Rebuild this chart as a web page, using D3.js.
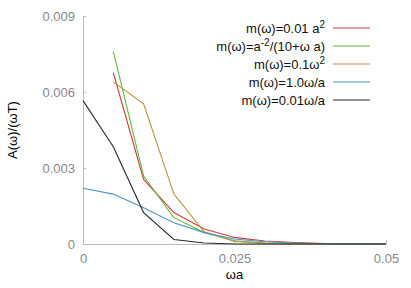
<!DOCTYPE html>
<html>
<head>
<meta charset="utf-8">
<script src="https://cdn.jsdelivr.net/npm/d3@7"></script>
<style>
  body { margin: 0; background: #fff; }
  text { font-family: "Liberation Sans", Arial, sans-serif; }
</style>
</head>
<body>
<div id="chart"></div>
<script>
// omega*a sample points
var xs = [0, 0.005, 0.01, 0.015, 0.02, 0.025, 0.03, 0.035, 0.04, 0.045, 0.05];
var names = ['m(ω)=0.01 a^2', 'm(ω)=a^-2/(10+ω a)', 'm(ω)=0.1ω^2', 'm(ω)=1.0ω/a', 'm(ω)=0.01ω/a'];
// null = no value at that point
var redVals = [null, 0.00676, 0.00255, 0.00124, 0.00059, 0.00026, 0.00012, 0.00006, 0.00002, 0.00001, 0];
var greenVals = [null, 0.0076, 0.00268, 0.00104, 0.00045, 0.00013, 0.00004, 0.00001, 0, 0, 0];
var orangeVals = [null, 0.0064, 0.00553, 0.00197, 0.00048, 0.0001, 0.00002, 0, 0, 0, 0];
var blueVals = [0.0022, 0.00197, 0.00143, 0.00084, 0.00045, 0.0002, 0.00009, 0.00004, 0.00001, 0, 0];
var blackVals = [0.00566, 0.00384, 0.00124, 0.00018, 0.00004, 0, 0, 0, 0, 0, 0];
var xTicks = [0, 0.025, 0.05];
var yTicks = [0, 0.003, 0.006, 0.009];

var width = 411, height = 288;
var margin = {left: 83, right: 25, top: 16, bottom: 44};

var series = [
    {name: names[0], vals: redVals, color: '#c8403a'},
    {name: names[1], vals: greenVals, color: '#64b43c'},
    {name: names[2], vals: orangeVals, color: '#b8903a'},
    {name: names[3], vals: blueVals, color: '#4a94c4'},
    {name: names[4], vals: blackVals, color: '#2a2a2a'}
];

var svg = d3.select('#chart').append('svg')
    .attr('width', width)
    .attr('height', height);

var x = d3.scaleLinear().domain([0, 0.05]).range([margin.left, width - margin.right]);
var y = d3.scaleLinear().domain([0, 0.009]).range([height - margin.bottom, margin.top]);

//axes
var xAxis = svg.append('g')
    .attr('transform', 'translate(0,' + (height - margin.bottom) + ')')
    .call(d3.axisBottom(x).tickValues(xTicks).tickSizeInner(-4).tickSizeOuter(0).tickPadding(10)
        .tickFormat(function (d) { return d === 0 ? '0' : String(d); }));
var yAxis = svg.append('g')
    .attr('transform', 'translate(' + margin.left + ',0)')
    .call(d3.axisLeft(y).tickValues(yTicks).tickSizeInner(-3).tickSizeOuter(0).tickPadding(8)
        .tickFormat(function (d) { return d === 0 ? '0' : d3.format('.3f')(d); }));
svg.selectAll('.domain').attr('stroke', '#bbb');
svg.selectAll('.tick line').attr('stroke', '#bbb');
svg.selectAll('.tick text').attr('fill', '#888').style('font-size', '13px');
// first x tick hides under zero in reference? keep all

//lines
var line = d3.line()
    .defined(function (d) { return d[1] !== null; })
    .x(function (d) { return x(d[0]); })
    .y(function (d) { return y(d[1]); });

series.forEach(function (s) {
    var pts = xs.map(function (v, i) { return [v, s.vals[i]]; });
    svg.append('path')
        .datum(pts)
        .attr('d', line)
        .attr('fill', 'none')
        .attr('stroke', s.color)
        .attr('stroke-width', 1.1);
});

//legend
function labelText(t, name) {
    var m = name.match(/^(.*?)\^(-?\d)(.*)$/);
    if (!m) { t.text(name); return; }
    t.append('tspan').text(m[1]);
    t.append('tspan').attr('dy', -5).style('font-size', '10px').text(m[2]);
    t.append('tspan').attr('dy', 5).text(m[3]);
}
series.forEach(function (s, i) {
    var ly = 28 + i * 18;
    var t = svg.append('text')
        .attr('x', 325)
        .attr('y', ly + 4.5)
        .attr('text-anchor', 'end')
        .style('font-size', '13px')
        .attr('fill', '#111');
    labelText(t, s.name);
    svg.append('line')
        .attr('x1', 333).attr('x2', 370)
        .attr('y1', ly).attr('y2', ly)
        .attr('stroke', s.color)
        .attr('stroke-width', 1.1);
});

//axis titles
svg.append('text')
    .attr('x', x(0.025))
    .attr('y', 279)
    .attr('text-anchor', 'middle')
    .style('font-size', '13px')
    .text('ωa');
svg.append('text')
    .attr('transform', 'translate(17,130) rotate(-90)')
    .attr('text-anchor', 'middle')
    .style('font-size', '13px')
    .text('A(ω)/(ωT)');
</script>
</body>
</html>
